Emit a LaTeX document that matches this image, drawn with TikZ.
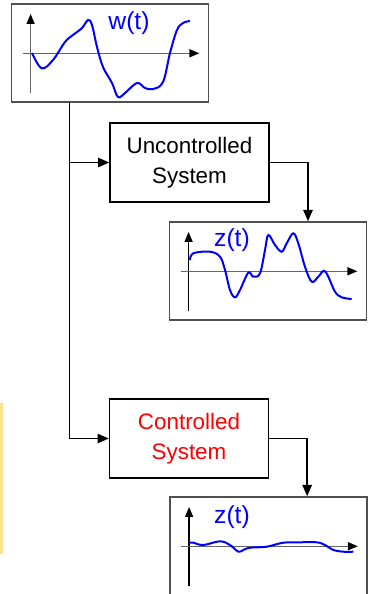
\documentclass[tikz,border=0pt]{standalone}
\usepackage{fontspec}
\setmainfont{Liberation Sans}
\usepackage{xcolor}
\usetikzlibrary{arrows.meta,positioning,calc}
\definecolor{sigblue}{HTML}{0000FF}
\definecolor{ctlred}{HTML}{FF0000}
\definecolor{axisgray}{HTML}{666666}
\definecolor{framegray}{HTML}{505050}
\definecolor{notebar}{HTML}{FFE38A}

\begin{document}
\begin{tikzpicture}[x=0.75pt,y=-0.75pt]
    \tikzset{
      plotbox/.style={draw=framegray,line width=1.1pt,minimum width=148pt,minimum height=73.5pt,inner sep=0pt},
      sysbox/.style={draw=black,line width=1.2pt,minimum width=119pt,minimum height=59.25pt,align=center,font=\fontsize{16.8}{22.5}\selectfont},
      sig/.style={sigblue,line width=1.5pt,smooth,tension=0.6},
      siglab/.style={sigblue,font=\fontsize{18.5}{20}\selectfont},
      flow/.style={black,line width=1.3pt,-{Triangle[length=8.5pt,width=7pt]}},
      axis/.style={line width=1.1pt,-{Triangle[length=7.5pt,width=6pt,color=black]}}
    }
    \useasboundingbox (0,0) rectangle (371,594);
    \fill[notebar] (0,403) rectangle (3,554);
    % plots and systems
    \node[plotbox] (wplot) at (110,53) {};
    \node[sysbox] (uncsys) at (189.5,162.5) {Uncontrolled\\System};
    \node[plotbox] (zunc) at (268,271) {};
    \node[sysbox,text=ctlred] (ctlsys) at (189,438.5) {Controlled\\System};
    \node[plotbox] (zctl) at (268.5,546) {};
    \foreach \b/\c in {wplot/axisgray,zunc/black,zctl/black} {
      \draw[axis,\c] ([xshift=15pt,yshift=7pt]\b.south west) -- ([xshift=15pt,yshift=-8pt]\b.north west);
      \draw[axis,axisgray] ([xshift=9pt,yshift=-37.5pt]\b.north west) -- ([xshift=-7.5pt,yshift=-37.5pt]\b.north east);
    }
    \node[siglab] (wlab) at (129,23) {w(t)};
    \node[siglab] (zunclab) at (232,240) {z(t)};
    \node[siglab] (zctllab) at (232,517) {z(t)};
    % signals
    \draw[sig] plot coordinates {(32,53) (41.7,68.3) (53,60) (65,42) (73,35) (82,28) (88,20) (92,25) (97,47) (103,67) (112,83) (118,97) (125,93) (137,83) (145,88) (153,89) (163,82) (170,53) (177,30) (183,23) (190,21)};
    \draw[sig] plot coordinates {(190,260) (193.3,253.3) (210,251.7) (220,256.7) (225,270) (230,290) (235,297.3) (240,290) (248.3,272.7) (253.3,276.7) (260,273.3) (265,250) (268.3,235) (275,245) (281.7,251.7) (286.7,243.3) (293.3,233.3) (298.3,243.3) (305,266.7) (311.7,281.7) (318.3,276.7) (324,270.7) (328.3,276.7) (335,291.7) (341.7,297.3) (351.7,299)};
    \draw[sig] plot coordinates {(189.3,542.7) (193.3,542.7) (203.3,545) (220,541.3) (230,545) (238.3,551.7) (243.3,550) (250,547.7) (266.7,546.7) (283.3,542.7) (300,542.3) (316.7,542.3) (325,545) (333.3,550) (343.3,551.7) (353.3,551.7)};
    % connectors
    \coordinate (split) at ([xshift=44.25pt]wplot.south west);
    \draw[flow] (split) |- (uncsys.west);
    \draw[flow] (split) |- (ctlsys.west);
    \draw[flow] (uncsys.east) -| ([xshift=30pt]zunc.north);
    \draw[flow] (ctlsys.east) -| ([xshift=29pt]zctl.north);
\end{tikzpicture}
\end{document}
